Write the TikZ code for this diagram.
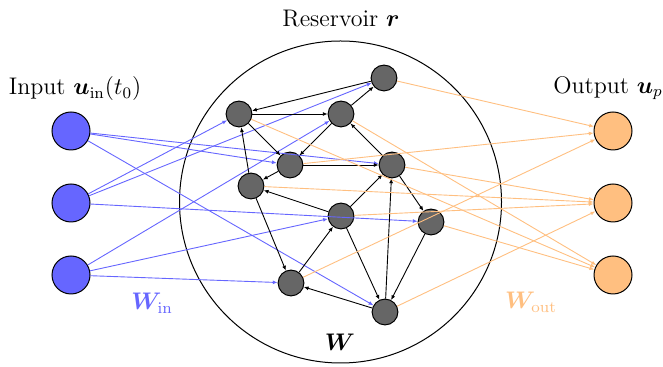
\documentclass[tikz,border=0pt]{standalone}
\usepackage{bm}
\usetikzlibrary{arrows.meta}
\begin{document}
\begin{tikzpicture}[x=0.5pt,y=-0.5pt,
  font=\fontsize{12}{14.4}\selectfont,
  inp/.style={circle,draw,fill=blue!60,minimum size=19pt,inner sep=0pt,line width=0.5pt},
  outp/.style={circle,draw,fill=orange!50,minimum size=19pt,inner sep=0pt,line width=0.5pt},
  res/.style={circle,draw,fill=black!60,minimum size=12.9pt,inner sep=0pt,line width=0.5pt},
  tipx/.style={-{Latex[length=2.4pt,width=2pt]}},
  wb/.style={tipx,black,line width=0.45pt},
  wi/.style={tipx,blue!60,line width=0.45pt},
  wo/.style={tipx,orange!50,line width=0.45pt}]
\useasboundingbox (0,0) rectangle (663,367);
% reservoir boundary
\node[circle,draw,minimum size=161pt,inner sep=0pt,line width=0.5pt] (big) at (340.5,202) {};
% texts
\node (tin) at (75,89) {Input $\bm{u}_{\mathrm{in}}(t_0)$};
\node (tres) at (341,19) {Reservoir $\bm{r}$};
\node (tout) at (608,88) {Output $\bm{u}_p$};
\node[text=blue!60] (twin) at (152,303) {$\bm{W}_{\mathrm{in}}$};
\node[text=orange!50] (twout) at (531,302) {$\bm{W}_{\mathrm{out}}$};
\node (tw) at (340,342) {$\bm{W}$};
% input and output nodes
\node[inp] (i1) at (71,131) {};
\node[inp] (i2) at (71,203) {};
\node[inp] (i3) at (71,275) {};
\node[outp] (o1) at (613,131) {};
\node[outp] (o2) at (613,203) {};
\node[outp] (o3) at (613,275) {};
% reservoir nodes
\node[res] (A) at (384,78) {};
\node[res] (B) at (239,114) {};
\node[res] (C) at (341,114) {};
\node[res] (D) at (290,165) {};
\node[res] (E) at (392,165) {};
\node[res] (F) at (251,186) {};
\node[res] (G) at (341,216) {};
\node[res] (H) at (431,222) {};
\node[res] (I) at (291,283) {};
\node[res] (J) at (385,312) {};
% input weights
\draw[wi] (i1) -- (D);
\draw[wi] (i1) -- (E);
\draw[wi] (i1) -- (J);
\draw[wi] (i2) -- (B);
\draw[wi] (i2) -- (A);
\draw[wi] (i2) -- (H);
\draw[wi] (i3) -- (C);
\draw[wi] (i3) -- (G);
\draw[wi] (i3) -- (I);
% reservoir connections
\draw[wb] (A) -- (B);
\draw[wb] (B) -- (C);
\draw[wb] (C) -- (A);
\draw[wb] (B) -- (D);
\draw[wb] (C) -- (D);
\draw[wb] (D) -- (E);
\draw[wb] (E) -- (C);
\draw[wb] (F) -- (B);
\draw[wb] (D) -- (F);
\draw[wb] (G) -- (F);
\draw[wb] (G) -- (E);
\draw[wb] (F) -- (I);
\draw[wb] (I) -- (G);
\draw[wb] (G) -- (J);
\draw[wb] (J) -- (E);
\draw[wb] (E) -- (H);
\draw[wb] (H) -- (J);
\draw[wb] (J) -- (I);
% output weights
\draw[wo] (A) -- (o1);
\draw[wo] (D) -- (o1);
\draw[wo] (I) -- (o1);
\draw[wo] (E) -- (o2);
\draw[wo] (F) -- (o2);
\draw[wo] (G) -- (o2);
\draw[wo] (J) -- (o2);
\draw[wo] (B) -- (o3);
\draw[wo] (C) -- (o3);
\draw[wo] (H) -- (o3);
\end{tikzpicture}
\end{document}
